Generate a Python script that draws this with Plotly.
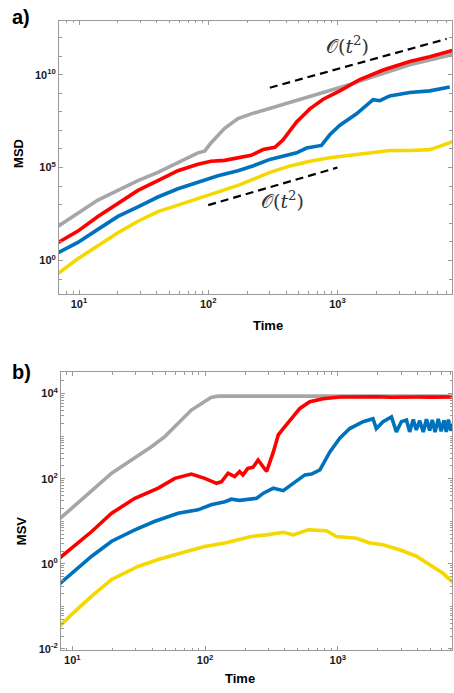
import plotly.graph_objects as go

# ---------------- panel a) MSD ----------------
msd_gray_t = [6.9, 9.8, 14.0, 20.0, 28.6, 40.8, 58.3, 83.2, 93.8, 105, 134, 170, 215, 300, 429, 612, 873, 1250, 1780, 2540, 3630, 5190, 7410, 7940]
msd_gray = [69, 355, 1.78e3, 5.9e3, 2.0e4, 5.5e4, 1.8e5, 6.2e5, 7.6e5, 2.1e6, 1.3e7, 4.3e7, 7.8e7, 1.55e8, 3.5e8, 6.8e8, 1.35e9, 2.95e9, 6.8e9, 1.5e10, 3.4e10, 6.2e10, 1.12e11, 1.26e11]

msd_red_t = [6.9, 9.8, 14.0, 20.0, 28.6, 40.8, 58.3, 83.2, 105, 134, 170, 215, 266, 328, 380, 483, 612, 776, 1045, 1490, 2260, 3630, 5190, 7410, 7940]
msd_red = [9.3, 38, 234, 1.17e3, 5.9e3, 2.0e4, 6.8e4, 1.5e5, 2.2e5, 2.45e5, 3.4e5, 4.6e5, 9.3e5, 1.23e6, 3.1e6, 2.9e7, 1.45e8, 4.8e8, 1.35e9, 5.5e9, 1.8e10, 5.1e10, 9.3e10, 1.9e11, 2.1e11]

msd_blue_t = [6.9, 9.8, 14.0, 20.0, 28.6, 40.8, 58.3, 83.2, 119, 170, 224, 300, 380, 483, 577, 753, 873, 1045, 1406, 1890, 2130, 2540, 3630, 5190, 7410]
msd_blue = [2.6, 9.3, 47, 234, 776, 2.6e3, 7.2e3, 1.6e4, 3.6e4, 6.8e4, 1.26e5, 2.75e5, 4.2e5, 6.2e5, 1.12e6, 1.55e6, 5.8e6, 1.9e7, 7.8e7, 4.5e8, 4.0e8, 7.2e8, 1.1e9, 1.35e9, 2.2e9]

msd_yellow_t = [6.9, 9.8, 14.0, 20.0, 28.6, 40.8, 58.3, 83.2, 119, 170, 242, 300, 429, 612, 873, 1250, 1780, 2540, 3630, 5190, 6170, 7760]
msd_yellow = [0.20, 1.23, 6.2, 31, 129, 427, 955, 2.1e3, 4.8e3, 1.1e4, 2.95e4, 5.5e4, 1.23e5, 2.2e5, 3.4e5, 4.7e5, 6.2e5, 8.3e5, 8.3e5, 9.3e5, 1.38e6, 2.5e6]

guide_hi_t = [300, 7000]
guide_hi = [2.0e9, 8.5e11]
guide_lo_t = [100, 1000]
guide_lo = [950, 1.0e5]

# ---------------- panel b) MSV ----------------
msv_gray_t = [7.85, 11.1, 15.7, 19.8, 27.9, 39.4, 49.8, 62.7, 78.9, 99.5, 111, 125, 1000, 7940]
msv_gray = [10.7, 28, 72, 135, 275, 562, 977, 2.0e3, 4.1e3, 6.5e3, 8.1e3, 8.7e3, 8.7e3, 8.7e3]

msv_red_t = [7.85, 9.9, 14.0, 19.8, 29.6, 44.4, 59.2, 78.9, 99.5, 122, 133, 149, 167, 182, 193, 210, 230, 251, 291, 327, 356, 388, 436, 518, 615, 774, 1035, 1300, 1585, 2000, 2510, 3160, 3980, 5010, 6300, 7940]
msv_red = [1.29, 2.34, 5.75, 15.5, 34.7, 60, 102, 129, 102, 78, 85, 135, 112, 148, 123, 174, 186, 275, 148, 427, 1070, 1510, 2400, 4470, 6460, 7590, 8320, 8450, 8250, 8400, 8200, 8450, 8300, 8250, 8400, 8350]

msv_blue_t = [7.85, 11.1, 14.0, 19.8, 29.6, 41.9, 62.7, 88.5, 111, 141, 158, 182, 210, 245, 275, 327, 388, 461, 565, 634, 733, 871, 1035, 1230, 1550, 1840, 1950, 2190, 2535, 2760, 3010, 3290, 3475, 3700, 3900, 4140, 4400, 4650, 4920, 5150, 5400, 5710, 6000, 6300, 6560, 6800, 7100, 7360]
msv_blue = [0.32, 0.79, 1.51, 3.4, 6.3, 10, 15.5, 18.6, 24.5, 28.8, 33, 31, 33, 34.7, 45.7, 60, 52.5, 78, 123, 129, 162, 427, 891, 1510, 2190, 2570, 1510, 2190, 2820, 1260, 2190, 2400, 1260, 2450, 1400, 2300, 1250, 2500, 1350, 2400, 1250, 2550, 1300, 2350, 1260, 2450, 1350, 1900]

msv_yellow_t = [7.85, 9.9, 14.0, 19.8, 31.3, 44.4, 70.3, 99.5, 141, 177, 223, 291, 388, 461, 598, 822, 977, 1380, 1740, 2190, 2920, 3910, 5210, 6190, 7450]
msv_yellow = [0.0316, 0.065, 0.174, 0.43, 0.87, 1.26, 1.9, 2.57, 3.1, 3.7, 4.4, 4.8, 5.5, 4.8, 6.3, 6.0, 4.4, 4.0, 3.1, 2.8, 2.14, 1.51, 0.87, 0.60, 0.355]

msd_major_exp = [0, 5, 10]
msv_major_exp = [-2, 0, 2, 4]
time_major_exp = [1, 2, 3]

GRAY = "#a6a6a6"
RED = "#ff0000"
BLUE = "#0072bd"
YELLOW = "#f5d800"
W, H = 454, 693

fig = go.Figure()

def add(t, v, color, xa, ya, width=3.6):
    fig.add_trace(go.Scatter(x=t, y=v, mode="lines", line=dict(color=color, width=width),
                             xaxis=xa, yaxis=ya, showlegend=False, hoverinfo="skip"))

add(msd_gray_t, msd_gray, GRAY, "x", "y")
add(msd_yellow_t, msd_yellow, YELLOW, "x", "y")
add(msd_blue_t, msd_blue, BLUE, "x", "y")
add(msd_red_t, msd_red, RED, "x", "y")
for gt, gv in [(guide_hi_t, guide_hi), (guide_lo_t, guide_lo)]:
    fig.add_trace(go.Scatter(x=gt, y=gv, mode="lines", line=dict(color="black", width=2.2, dash="8px,5px"),
                             xaxis="x", yaxis="y", showlegend=False, hoverinfo="skip"))

add(msv_gray_t, msv_gray, GRAY, "x2", "y2")
add(msv_yellow_t, msv_yellow, YELLOW, "x2", "y2")
add(msv_blue_t, msv_blue, BLUE, "x2", "y2")
add(msv_red_t, msv_red, RED, "x2", "y2")

def sup(e):
    return "<b>10<sup>%d</sup></b>" % e

time_minor = [m * 10 ** e for e in range(0, 4) for m in range(2, 10)]
axcommon = dict(type="log", showgrid=False, zeroline=False, showline=True, linecolor="#9a9a9a",
                linewidth=1, mirror="ticks", ticks="inside", ticklen=4, tickcolor="#9a9a9a",
                tickfont=dict(family="Liberation Sans", size=11, color="#1a1a1a"))

xa = dict(axcommon, tickmode="array", tickvals=[10 ** e for e in time_major_exp],
          ticktext=[sup(e) for e in time_major_exp],
          minor=dict(tickmode="array", tickvals=time_minor, ticks="inside", ticklen=2.5, tickcolor="#9a9a9a"))

fig.update_layout(
    width=W, height=H, margin=dict(l=0, r=0, t=0, b=0),
    paper_bgcolor="white", plot_bgcolor="white",
    xaxis=dict(xa, domain=[59 / W, 452 / W], range=[0.845, 3.887], anchor="y"),
    yaxis=dict(axcommon, domain=[1 - 296 / H, 1 - 21 / H], range=[-1.8, 12.9], anchor="x",
               tickmode="array", tickvals=[10 ** e for e in msd_major_exp],
               ticktext=[sup(e) for e in msd_major_exp],
               minor=dict(tickmode="array", tickvals=[10 ** e for e in range(-1, 13)],
                          ticks="inside", ticklen=3, tickcolor="#9a9a9a")),
    xaxis2=dict(xa, domain=[61 / W, 452 / W], range=[0.915, 3.86], anchor="y2"),
    yaxis2=dict(axcommon, domain=[1 - 655 / H, 1 - 375 / H], range=[-2.03, 4.5], anchor="x2",
                tickmode="array", tickvals=[10 ** e for e in msv_major_exp],
                ticktext=[sup(e) for e in msv_major_exp],
                minor=dict(tickmode="array",
                           tickvals=[m * 10 ** e for e in range(-2, 5) for m in range(1, 10)],
                           ticks="inside", ticklen=2.5, tickcolor="#9a9a9a")),
)

def ann(text, px, py, size, rot=0, family="Liberation Sans", color="black"):
    fig.add_annotation(text=text, x=px / W, y=1 - py / H, xref="paper", yref="paper",
                       showarrow=False, textangle=rot, font=dict(family=family, size=size, color=color),
                       xanchor="center", yanchor="middle")

ann("<b>a)</b>", 21, 17, 20)
ann("<b>b)</b>", 21, 375, 20)
ann("<b>MSD</b>", 19, 155, 13, rot=-90)
ann("<b>MSV</b>", 21, 535, 13, rot=-90)
ann("<b>Time</b>", 268, 328, 13)
ann("<b>Time</b>", 240, 683, 13)
ann("𝒪(<i>t</i><sup>2</sup>)", 347, 45, 19, family="DejaVu Serif", color="#333333")
ann("𝒪(<i>t</i><sup>2</sup>)", 282, 201, 19, family="DejaVu Serif", color="#333333")

fig.write_html("out.html")
